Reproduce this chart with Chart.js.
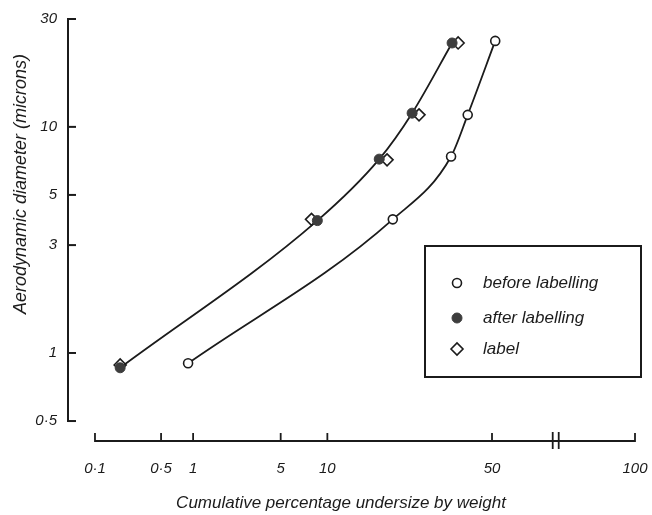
<!DOCTYPE html>
<html><head><meta charset="utf-8">
<script src="https://cdn.jsdelivr.net/npm/chart.js@4/dist/chart.umd.min.js"></script>
<style>html,body{margin:0;padding:0;background:#fff}#wrap{width:652px;height:515px}</style>
</head><body><div id="wrap"><canvas id="c" width="652" height="515"></canvas></div>
<script>
// ---- data (cumulative % undersize by weight, aerodynamic diameter in microns) ----
const beforeX = [0.9, 22, 37.5, 42.5, 51];
const beforeY = [0.9, 3.9, 7.4, 11.3, 24];
const afterX  = [0.19, 8.7, 19, 26.7, 37.8];
const afterY  = [0.86, 3.85, 7.2, 11.5, 23.5];
const labelX  = [0.19, 8.0, 20.7, 28.5, 39.6];
const labelY  = [0.885, 3.9, 7.15, 11.3, 23.5];
const xTicks  = [0.1, 0.5, 1, 5, 10, 50, 100];
const yTicks  = [0.5, 1, 3, 5, 10, 30];
const seriesNames = ['before labelling', 'after labelling', 'label'];
const xTitle = 'Cumulative percentage undersize by weight';
const yTitle = 'Aerodynamic diameter (microns)';

// ---- probability (probit) scale ----
function probit(p){
  const a=[-3.969683028665376e+01,2.209460984245205e+02,-2.759285104469687e+02,1.383577518672690e+02,-3.066479806614716e+01,2.506628277459239e+00];
  const b=[-5.447609879822406e+01,1.615858368580409e+02,-1.556989798598866e+02,6.680131188771972e+01,-1.328068155288572e+01];
  const c=[-7.784894002430293e-03,-3.223964580411365e-01,-2.400758277161838e+00,-2.549732539343734e+00,4.374664141464968e+00,2.938163982698783e+00];
  const d=[7.784695709041462e-03,3.224671290700398e-01,2.445134137142996e+00,3.754408661907416e+00];
  const pl=0.02425, ph=1-pl; let q,r;
  if(p<pl){q=Math.sqrt(-2*Math.log(p));return (((((c[0]*q+c[1])*q+c[2])*q+c[3])*q+c[4])*q+c[5])/((((d[0]*q+d[1])*q+d[2])*q+d[3])*q+1);}
  if(p<=ph){q=p-0.5;r=q*q;return (((((a[0]*r+a[1])*r+a[2])*r+a[3])*r+a[4])*r+a[5])*q/(((((b[0]*r+b[1])*r+b[2])*r+b[3])*r+b[4])*r+1);}
  q=Math.sqrt(-2*Math.log(1-p));return -(((((c[0]*q+c[1])*q+c[2])*q+c[3])*q+c[4])*q+c[5])/((((d[0]*q+d[1])*q+d[2])*q+d[3])*q+1);
}
function phi(z){
  const t=1/(1+0.3275911*Math.abs(z)/Math.SQRT2);
  const y=1-(((((1.061405429*t-1.453152027)*t)+1.421413741)*t-0.284496736)*t+0.254829592)*t*Math.exp(-z*z/2);
  return 0.5*(1+(z>=0?y:-y));
}
class ProbitScale extends Chart.Scale {
  static id = 'probit';
  static defaults = { ticks: { callback: v => String(v) } };
  determineDataLimits(){ this.min = this.options.min; this.max = this.options.max; }
  buildTicks(){ return (this.options.tickValues || []).map(v => ({value: v})); }
  getLabelForValue(v){ return String(v); }
  configure(){ super.configure(); this._zMin = probit(this.min/100); this._zMax = this.options.endZ; }
  _z(v){ return v >= 100 ? this._zMax : probit(v/100); }
  getPixelForValue(v){ return this.getPixelForDecimal((this._z(v)-this._zMin)/(this._zMax-this._zMin)); }
  getValueForPixel(p){ return 100*phi(this._zMin + this.getDecimalForPixel(p)*(this._zMax-this._zMin)); }
}
Chart.register(ProbitScale);

const FONT = 'Liberation Sans';
const fmt = v => String(v).replace('.', '·');
const pts = (xs, ys) => xs.map((x, i) => ({x, y: ys[i]}));
const INK = '#1b1b1b';

const decor = {
  id: 'decor',
  afterDraw(chart){
    const {ctx, chartArea: ca, scales: {x, y}} = chart;
    ctx.save();
    ctx.strokeStyle = INK; ctx.fillStyle = INK;
    // y axis
    ctx.lineWidth = 2;
    const yT = y.getPixelForValue(yTicks[yTicks.length-1]), yB = y.getPixelForValue(yTicks[0]);
    ctx.beginPath(); ctx.moveTo(ca.left, yT-1); ctx.lineTo(ca.left, yB+1); ctx.stroke();
    yTicks.forEach(v => { const py = y.getPixelForValue(v); ctx.beginPath(); ctx.moveTo(ca.left, py); ctx.lineTo(ca.left+8, py); ctx.stroke(); });
    // x axis
    ctx.lineWidth = 1.8;
    const xL = x.getPixelForValue(xTicks[0]), xR = x.getPixelForValue(xTicks[xTicks.length-1]);
    const yA = ca.bottom;
    ctx.beginPath(); ctx.moveTo(xL, yA); ctx.lineTo(xR, yA); ctx.stroke();
    xTicks.forEach(v => { const px = x.getPixelForValue(v); ctx.beginPath(); ctx.moveTo(px, yA+1); ctx.lineTo(px, yA-8); ctx.stroke(); });
    // axis break
    const bx = x.getPixelForValue(69);
    ctx.lineWidth = 1.8;
    [-3, 3].forEach(dx => { ctx.beginPath(); ctx.moveTo(bx+dx, yA-9); ctx.lineTo(bx+dx, yA+8); ctx.stroke(); });
    // titles
    ctx.textAlign = 'center'; ctx.textBaseline = 'middle';
    ctx.font = 'italic 17px "' + FONT + '"';
    ctx.fillText(xTitle, 341, 503);
    ctx.font = 'italic 18px "' + FONT + '"';
    ctx.save(); ctx.translate(21, 184); ctx.rotate(-Math.PI/2); ctx.fillText(yTitle, 0, 0); ctx.restore();
    // legend box
    const L = {l: 425, t: 246, r: 641, b: 377};
    ctx.lineWidth = 2;
    ctx.strokeRect(L.l, L.t, L.r-L.l, L.b-L.t);
    const rows = [283, 318, 349];
    ctx.font = 'italic 17px "' + FONT + '"';
    ctx.textAlign = 'left';
    chart.data.datasets.forEach((ds, i) => {
      ctx.save();
      ctx.fillStyle = ds.pointBackgroundColor; ctx.strokeStyle = ds.pointBorderColor; ctx.lineWidth = ds.pointBorderWidth;
      Chart.helpers.drawPoint(ctx, {pointStyle: ds.pointStyle, radius: ds.pointRadius, rotation: 0, borderWidth: ds.pointBorderWidth}, 457, rows[i]);
      ctx.restore();
      ctx.fillStyle = INK;
      ctx.fillText(ds.label, 483, rows[i]);
    });
    ctx.restore();
  }
};

new Chart(document.getElementById('c'), {
  type: 'line',
  data: {
    datasets: [
      { label: seriesNames[0], data: pts(beforeX, beforeY), borderColor: INK, borderWidth: 1.8, cubicInterpolationMode: 'monotone',
        pointStyle: 'circle', pointRadius: 4.5, pointBackgroundColor: '#ffffff', pointBorderColor: INK, pointBorderWidth: 1.6 },
      { label: seriesNames[1], data: pts(afterX, afterY), borderColor: INK, borderWidth: 1.8, cubicInterpolationMode: 'monotone',
        pointStyle: 'circle', pointRadius: 5, pointBackgroundColor: '#3d3d3d', pointBorderColor: '#3d3d3d', pointBorderWidth: 1 },
      { label: seriesNames[2], data: pts(labelX, labelY), showLine: false,
        pointStyle: 'rectRot', pointRadius: 6, pointBackgroundColor: '#ffffff', pointBorderColor: INK, pointBorderWidth: 1.6 }
    ]
  },
  options: {
    responsive: false, animation: false,
    layout: { padding: { top: 19, right: 17, left: 0, bottom: 0 } },
    plugins: { legend: { display: false }, tooltip: { enabled: false } },
    scales: {
      x: { type: 'probit', min: 0.0483, max: 100, endZ: 1.113, tickValues: xTicks,
           grid: { display: false, drawTicks: false }, border: { display: false },
           ticks: { autoSkip: false, maxRotation: 0, padding: 19, color: INK, font: { family: FONT, size: 15, style: 'italic' }, callback: v => fmt(v) },
           afterFit: s => { s.height = 74; s.paddingLeft = 0; s.paddingRight = 0; } },
      y: { type: 'logarithmic', min: 0.408, max: 30,
           grid: { display: false, drawTicks: false }, border: { display: false },
           afterBuildTicks: s => { s.ticks = yTicks.map(v => ({value: v})); },
           ticks: { autoSkip: false, padding: 11, color: INK, font: { family: FONT, size: 15, style: 'italic' }, callback: v => fmt(v) },
           afterFit: s => { s.width = 68; s.paddingTop = 0; s.paddingBottom = 0; } }
    }
  },
  plugins: [decor]
});
</script>
</body></html>
